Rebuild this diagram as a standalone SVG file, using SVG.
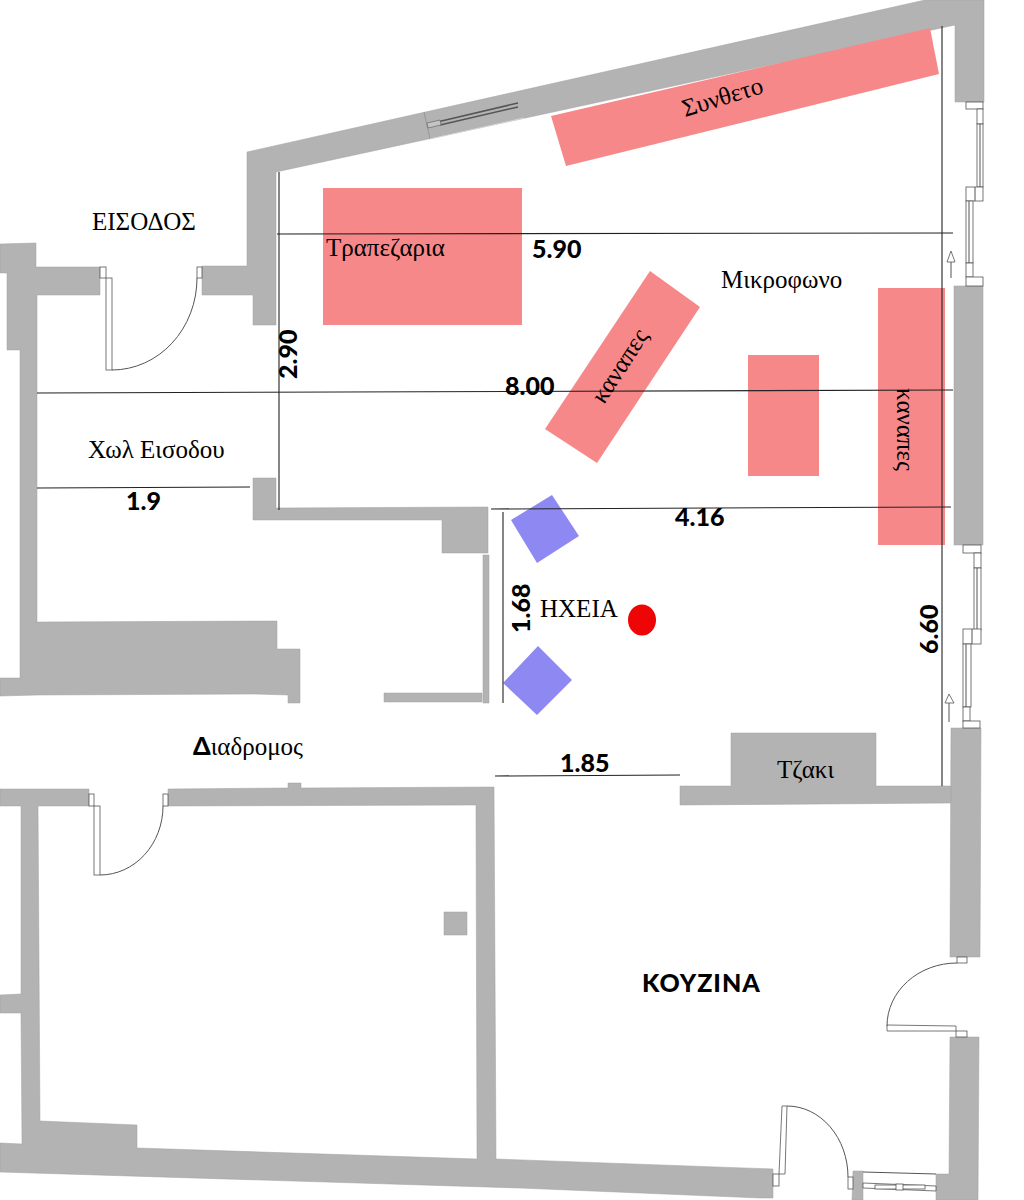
<svg xmlns="http://www.w3.org/2000/svg" width="1024" height="1200" viewBox="0 0 1024 1200">
<style>
.w{fill:#b3b3b3;stroke:#a0a0a0;stroke-width:.5}
.o{fill:#fff;stroke:#555;stroke-width:.8}
.a{fill:none;stroke:#555;stroke-width:1}
.p{fill:#f68889}
.b{fill:#8e88f3}
.d{stroke:#222;stroke-width:1.1;fill:none}
.s{font-family:"Liberation Serif","Noto Serif",serif;fill:#000;font-size:25px}
.n{font-family:"Lato","Liberation Sans",sans-serif;font-weight:900;fill:#000;font-size:25px}
</style>
<rect width="1024" height="1200" fill="#fff"/>
<g id="walls">
<polygon class="w" points="247,152 925,0 984,0 984,102 955,102 955,25 276,172 276,325 253,325 253,295 202,295 202,266 247,266"/>
<polygon class="w" points="0,244 36,243 36,267 100,267 100,295 37,295 37,622 277,621 277,649 300,649 300,703 288,703 288,695 255,694 38,695 0,696 0,678 20,678 20,350 7,350 7,273 0,273"/>
<polygon class="w" points="253,478 276,478 276,508 488,507 488,553 442,553 442,520 253,520"/>
<rect class="w" x="483" y="555" width="6" height="148"/>
<polygon class="w" points="384,693 482,693 482,702 384,702"/>
<rect class="w" x="954" y="286" width="29" height="259"/>
<polygon class="w" points="0,789 89,789 89,806 38,806 40,1121 137,1125 137,1148 477,1159 476,805 168,806 168,789 288,788 288,783 301,783 301,788 494,787 496,1159 773,1169 773,1198 760,1198 520,1188 0,1172 0,1143 22,1144 21,1013 0,1013 0,995 21,994 21,806 0,806"/>
<polygon class="w" points="951,728 981,728 980,957 950,957"/>
<polygon class="w" points="680,786 731,786 731,733 876,733 876,786 951,786 951,803 680,805"/>
<polygon class="w" points="950,1037 979,1037 978,1200 936,1200 936,1174 949,1174"/>
<polygon class="w" points="853,1171 863,1171 863,1200 852,1200"/>
<rect class="w" x="444" y="912" width="23" height="23"/>
</g>
<g id="top-window">
<line x1="424" y1="112" x2="430" y2="139" stroke="#8a8a8a" stroke-width=".7"/>
<line x1="430" y1="139" x2="524" y2="118" stroke="#d8d8d8" stroke-width="1"/>
<line x1="433" y1="123" x2="518" y2="103" stroke="#555" stroke-width="1.5"/>
<line x1="440" y1="125" x2="518" y2="107" stroke="#555" stroke-width="1.5"/>
<polygon points="427,123 440,120 441,125 428,128" fill="#c4c4c4" stroke="#666" stroke-width=".7"/>
</g>
<g id="right-window-upper">
<rect class="o" x="966" y="102" width="17" height="7"/>
<rect class="o" x="977" y="109" width="6" height="15"/>
<rect class="o" x="977" y="124" width="6" height="63"/>
<line class="a" x1="980" y1="124" x2="980" y2="187" stroke-width=".6"/>
<rect class="o" x="966" y="187" width="17" height="14"/>
<line class="a" x1="975" y1="187" x2="975" y2="201"/>
<rect class="o" x="966" y="201" width="7" height="62"/>
<line class="a" x1="969" y1="201" x2="969" y2="263"/>
<rect class="o" x="966" y="263" width="7" height="14"/>
<rect class="o" x="966" y="277" width="17" height="9"/>
</g>
<g id="right-window-lower">
<rect class="o" x="963" y="545" width="18" height="8"/>
<rect class="o" x="974" y="553" width="7" height="15"/>
<rect class="o" x="974" y="568" width="7" height="62"/>
<line class="a" x1="977" y1="568" x2="977" y2="630"/>
<rect class="o" x="963" y="629" width="18" height="15"/>
<line class="a" x1="972" y1="629" x2="972" y2="644"/>
<rect class="o" x="963" y="644" width="8" height="63"/>
<line class="a" x1="966" y1="644" x2="966" y2="707"/>
<rect class="o" x="963" y="707" width="7" height="14"/>
<rect class="o" x="963" y="721" width="17" height="7"/>
</g>
<g id="arrows">
<path class="a" d="M951,278V262"/><polygon class="o" points="951,251 947,262 955,262"/>
<path class="a" d="M949,722V703"/><polygon class="o" points="949,694 945,703 954,703"/>
</g>
<g id="door-entrance">
<rect class="o" x="100" y="267" width="6" height="11"/>
<rect class="o" x="106" y="278" width="6" height="92"/>
<rect class="o" x="197" y="267" width="5" height="11"/>
<path class="a" d="M112,370A85,92 0 0 0 197,278"/>
</g>
<g id="door-room">
<rect class="o" x="89" y="794" width="5" height="12"/>
<rect class="o" x="94" y="806" width="6" height="69"/>
<rect class="o" x="163" y="794" width="5" height="12"/>
<path class="a" d="M100,875A63,69 0 0 0 163,806"/>
</g>
<g id="door-kitchen-east">
<rect class="o" x="957" y="957" width="10" height="6"/>
<rect class="o" x="956" y="1031" width="11" height="6"/>
<polygon class="o" points="887,1025 956,1026 956,1031 887,1031"/>
<path class="a" d="M887,1026A70,63 0 0 1 957,963"/>
</g>
<g id="door-kitchen-south">
<rect class="o" x="773" y="1174" width="6" height="12"/>
<polygon class="o" points="782,1106 787,1106 785,1174 779,1174"/>
<rect class="o" x="848" y="1177" width="5" height="12"/>
<path class="a" d="M787,1106A61,71 0 0 1 848,1177"/>
</g>
<g id="kitchen-window">
<line class="a" x1="863" y1="1172" x2="936" y2="1174"/>
<polygon class="o" points="863,1183 936,1186 936,1191 863,1188"/>
<rect class="o" x="875" y="1185" width="23" height="4" stroke-width="1.2"/>
<rect class="o" x="902" y="1185" width="23" height="4" stroke-width="1.2"/>
<rect class="o" x="896" y="1184" width="7" height="6"/>
</g>
<g id="furniture">
<rect id="table" class="p" x="323" y="188" width="199" height="137"/>
<polygon id="unit" class="p" points="551,116 930,28 939,74 566,166"/>
<polygon id="sofa1" class="p" points="650,271 700,307 597,463 545,429"/>
<rect id="mic-table" class="p" x="748" y="355" width="71" height="121"/>
<rect id="sofa2" class="p" x="878" y="288" width="67" height="257"/>
<polygon id="speaker1" class="b" points="552,495 579,536 537,563 511,520"/>
<polygon id="speaker2" class="b" points="538,646 572,680 537,715 503,683"/>
<ellipse id="mic" cx="642" cy="620" rx="14" ry="15.500" fill="#ee0505"/>
</g>
<g id="dimensions">
<line class="d" x1="277" y1="234" x2="953" y2="233"/>
<line class="d" x1="37" y1="393" x2="953" y2="390"/>
<line class="d" x1="37" y1="488" x2="250" y2="487"/>
<line class="d" x1="491" y1="509" x2="951" y2="507"/>
<line class="d" x1="279" y1="172" x2="279" y2="510"/>
<line class="d" x1="503" y1="512" x2="503" y2="703"/>
<line class="d" x1="495" y1="776" x2="680" y2="775"/>
<line class="d" x1="942" y1="26" x2="942" y2="786"/>
</g>
<g id="labels">
<text class="s" transform="translate(685,117) rotate(-17)">Συνθετο</text>
<text class="s" x="326" y="256">Τραπεζαρια</text>
<text class="s" x="721" y="288">Μικροφωνο</text>
<text class="s" transform="translate(604,405) rotate(-57)">καναπες</text>
<text class="s" transform="translate(897,388) rotate(90)">καναπες</text>
<text class="s" x="92" y="230">ΕΙΣΟΔΟΣ</text>
<text class="s" x="88" y="458">Χωλ Εισοδου</text>
<text class="s" x="540" y="617">ΗΧΕΙΑ</text>
<text class="s" x="193" y="755"><tspan font-family="Lato,'Liberation Sans',sans-serif" font-weight="900">Δ</tspan>ιαδρομος</text>
<text class="s" x="777" y="778">Τζακι</text>
<text class="n" x="642" y="992" letter-spacing="1">ΚΟΥΖΙΝΑ</text>
<text class="n" x="532" y="258">5.90</text>
<text class="n" x="505" y="395">8.00</text>
<text class="n" x="126" y="510">1.9</text>
<text class="n" x="675" y="526">4.16</text>
<text class="n" x="560" y="772">1.85</text>
<text class="n" transform="translate(297,379) rotate(-90)">2.90</text>
<text class="n" transform="translate(530,633) rotate(-90)">1.68</text>
<text class="n" transform="translate(938,654) rotate(-90)">6.60</text>
</g>
</svg>
